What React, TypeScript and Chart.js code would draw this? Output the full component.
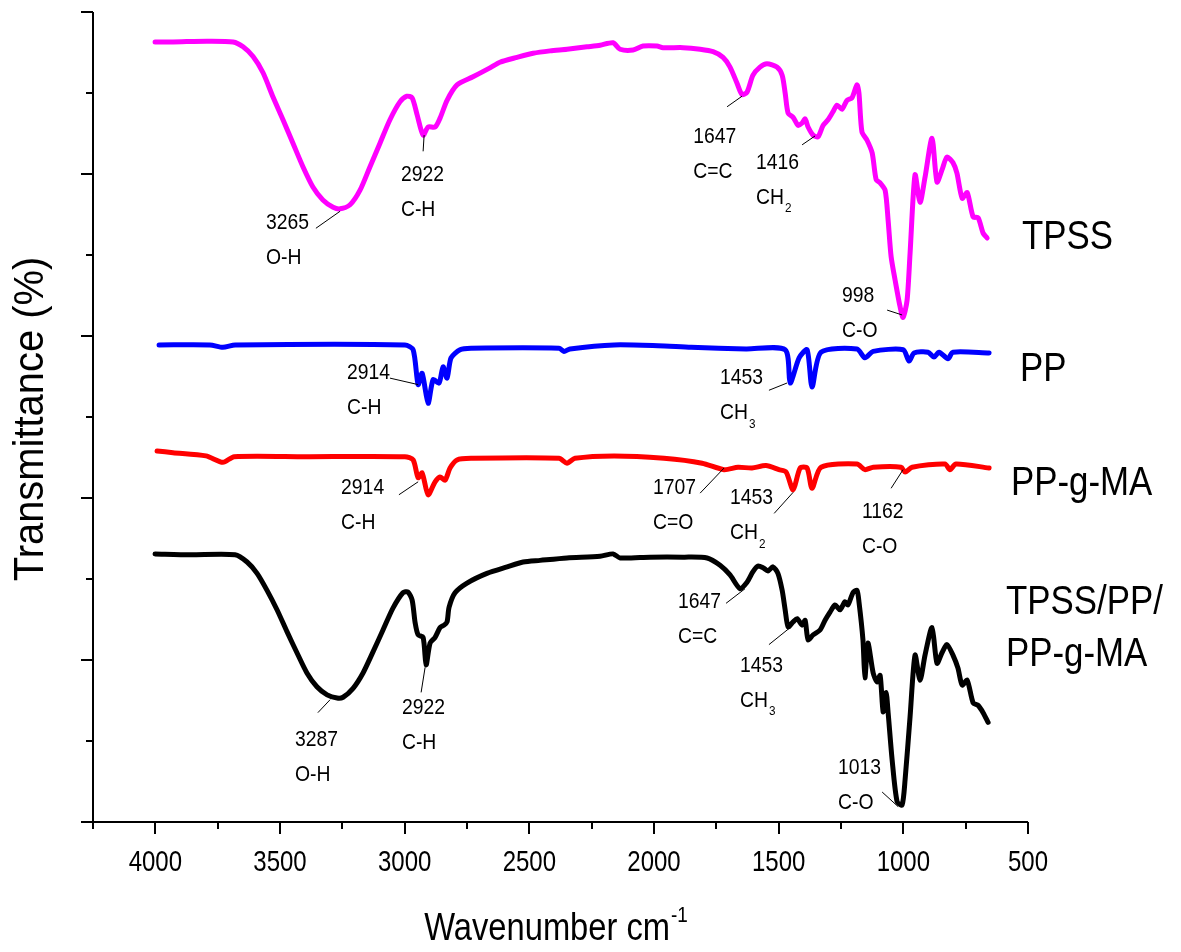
import { useEffect, useRef } from "react";
import { Chart, registerables } from "chart.js";

Chart.register(...registerables);

// ---------- axes ----------
const X_MIN = 500;
const X_MAX = 4250;
const Y_MIN = 0;
const Y_MAX = 100;
const xMajorTicks = [4000, 3500, 3000, 2500, 2000, 1500, 1000, 500];
const xMinorTicks = [4250, 3750, 3250, 2750, 2250, 1750, 1250, 750];
const yMajorTicks = [0, 20, 40, 60, 80, 100];
const yMinorTicks = [10, 30, 50, 70, 90];
const xTitle = "Wavenumber cm";
const xTitleSup = "-1";
const yTitle = "Transmittance (%)";

// ---------- series: [wavenumber (cm-1), transmittance (offset, a.u.)] ----------
const tpss: [number, number][] = [
  [4001, 96.3], [3929, 96.3], [3793, 96.4], [3688, 96.3], [3648, 95.7], [3608, 94.5],
  [3568, 92.5], [3528, 89.5], [3488, 86.7], [3448, 83.8], [3408, 80.9], [3368, 78.4],
  [3328, 76.8], [3287, 75.9], [3259, 75.7], [3219, 76.2], [3179, 78.0], [3139, 80.9],
  [3099, 83.8], [3059, 86.7], [3019, 88.9], [2991, 89.6], [2970, 89.4], [2950, 87.3],
  [2926, 84.8], [2906, 85.8], [2878, 85.8], [2858, 86.9], [2830, 89.1], [2790, 91.0],
  [2726, 92.0], [2658, 93.1], [2618, 93.8], [2549, 94.4], [2485, 94.9], [2417, 95.2],
  [2349, 95.4], [2269, 95.7], [2216, 95.9], [2164, 96.2], [2136, 95.4], [2084, 95.3],
  [2044, 95.8], [1988, 95.8], [1964, 95.6], [1883, 95.6], [1815, 95.4], [1763, 95.1],
  [1723, 94.4], [1695, 93.2], [1667, 91.2], [1647, 89.8], [1627, 90.1], [1603, 92.2],
  [1575, 93.2], [1547, 93.6], [1507, 93.2], [1486, 92.2], [1474, 90.0], [1462, 87.5],
  [1442, 87.0], [1422, 86.0], [1406, 86.3], [1394, 86.8], [1382, 85.8], [1362, 84.8],
  [1342, 84.6], [1322, 86.0], [1302, 86.7], [1282, 87.7], [1266, 88.5], [1246, 88.0],
  [1226, 89.1], [1206, 89.4], [1186, 91.0], [1178, 90.0], [1166, 85.2], [1146, 84.2],
  [1125, 82.6], [1109, 79.3], [1093, 78.9], [1073, 78.0], [1061, 74.3], [1049, 69.8],
  [1033, 66.9], [1013, 63.6], [1001, 62.3], [985, 64.4], [973, 70.2], [953, 79.9],
  [933, 76.5], [913, 79.6], [885, 84.4], [865, 79.0], [845, 80.5], [825, 82.1],
  [801, 81.4], [785, 80.1], [764, 77.0], [744, 77.7], [720, 74.7], [700, 74.6],
  [680, 72.7], [664, 72.1],
];

const pp: [number, number][] = [
  [3985, 58.9], [3781, 58.9], [3729, 58.6], [3680, 58.9], [2999, 58.9], [2966, 58.3],
  [2946, 54.0], [2930, 55.4], [2906, 51.7], [2886, 54.6], [2862, 54.2], [2846, 56.2],
  [2830, 54.8], [2814, 57.3], [2778, 58.3], [2734, 58.5], [2381, 58.5], [2361, 58.1],
  [2337, 58.4], [2160, 58.9], [1984, 58.8], [1851, 58.6], [1631, 58.4], [1474, 58.3],
  [1454, 54.2], [1418, 57.3], [1386, 58.3], [1366, 53.7], [1330, 58.0], [1186, 58.4],
  [1154, 57.3], [1121, 58.1], [1001, 58.3], [977, 56.9], [957, 57.9], [901, 58.0],
  [877, 57.4], [857, 58.0], [821, 57.2], [801, 58.0], [656, 57.9],
];

const ppgma: [number, number][] = [
  [3993, 45.8], [3929, 45.6], [3797, 45.2], [3729, 44.4], [3684, 45.1], [3400, 45.1],
  [2999, 45.1], [2966, 44.7], [2946, 42.5], [2930, 43.1], [2906, 40.4], [2878, 42.0],
  [2858, 42.6], [2838, 42.2], [2818, 43.7], [2790, 44.7], [2734, 44.9], [2381, 44.9],
  [2349, 44.3], [2317, 44.9], [2160, 45.2], [1960, 44.9], [1807, 44.3], [1719, 43.5],
  [1663, 43.8], [1607, 43.7], [1551, 44.0], [1499, 43.5], [1470, 43.2], [1442, 41.0],
  [1414, 43.7], [1386, 43.7], [1366, 41.2], [1330, 43.8], [1186, 44.2], [1154, 43.5],
  [1121, 43.8], [1009, 43.8], [993, 43.2], [965, 43.8], [833, 44.2], [813, 43.5],
  [789, 44.2], [656, 43.7],
];

const blend: [number, number][] = [
  [4001, 33.1], [3861, 33.0], [3680, 33.0], [3632, 32.1], [3592, 30.7], [3552, 28.6],
  [3512, 26.2], [3472, 23.5], [3432, 20.9], [3392, 18.4], [3352, 16.7], [3311, 15.7],
  [3271, 15.3], [3247, 15.4], [3207, 16.5], [3167, 18.4], [3127, 21.0], [3087, 23.7],
  [3047, 26.4], [3007, 28.3], [2987, 28.4], [2970, 27.4], [2958, 24.6], [2946, 23.1],
  [2926, 22.8], [2914, 19.4], [2898, 22.1], [2878, 22.8], [2858, 24.0], [2842, 24.3],
  [2830, 24.7], [2822, 26.5], [2798, 28.3], [2750, 29.5], [2670, 30.7], [2589, 31.5],
  [2525, 32.1], [2457, 32.3], [2349, 32.6], [2216, 32.8], [2164, 33.1], [2136, 32.6],
  [2016, 32.7], [1883, 32.7], [1787, 32.6], [1735, 31.7], [1695, 30.5], [1655, 28.8],
  [1627, 29.6], [1603, 30.9], [1583, 31.6], [1563, 31.4], [1543, 31.0], [1523, 31.5],
  [1503, 30.7], [1486, 28.6], [1474, 26.2], [1462, 24.1], [1442, 24.7], [1426, 25.1],
  [1406, 24.3], [1394, 24.9], [1382, 22.5], [1362, 23.1], [1334, 23.7], [1314, 24.9],
  [1294, 25.9], [1274, 26.8], [1254, 26.2], [1234, 27.2], [1222, 26.8], [1202, 28.3],
  [1186, 28.6], [1178, 27.2], [1162, 22.5], [1154, 17.8], [1142, 22.1], [1121, 18.4],
  [1105, 17.3], [1093, 18.1], [1081, 13.6], [1069, 16.0], [1061, 13.5], [1045, 7.7],
  [1025, 2.5], [1005, 2.1], [993, 5.2], [973, 13.0], [953, 20.6], [933, 17.5],
  [913, 20.6], [885, 24.0], [865, 19.6], [845, 20.9], [825, 21.9], [801, 20.6],
  [781, 19.0], [764, 16.9], [744, 17.5], [720, 14.7], [700, 14.4], [680, 13.5],
  [660, 12.3],
];

const seriesNames = ["TPSS", "PP", "PP-g-MA", "TPSS/PP/PP-g-MA"];
const seriesColors = ["#ff00ff", "#0000ff", "#ff0000", "#000000"];

// ---------- side labels (series name lines, anchored at transmittance level of first line) ----------
const sideLabels: { lines: string[]; level: number; dx: number }[] = [
  { lines: ["TPSS"], level: 72.1, dx: -6 },
  { lines: ["PP"], level: 55.8, dx: -8 },
  { lines: ["PP-g-MA"], level: 41.8, dx: -17 },
  { lines: ["TPSS/PP/", "PP-g-MA"], level: 27.1, dx: -22 },
];

// ---------- peak annotations: text anchor + leader line, in data units ----------
type Ann = {
  peak: string;
  group: string;
  sub?: string;
  tx: number;
  ty: number;
  from: [number, number];
  to: [number, number];
};
const annotations: Ann[] = [
  { peak: "3265", group: "O-H", tx: 3556, ty: 74.0, from: [3356, 73.3], to: [3259, 75.4] },
  { peak: "2922", group: "C-H", tx: 3015, ty: 79.9, from: [2926, 82.8], to: [2922, 84.8] },
  { peak: "1647", group: "C=C", tx: 1843, ty: 84.6, from: [1707, 88.3], to: [1647, 89.6] },
  { peak: "1416", group: "CH", sub: "2", tx: 1591, ty: 81.4, from: [1406, 83.6], to: [1354, 84.7] },
  { peak: "998", group: "C-O", tx: 1246, ty: 64.9, from: [1065, 63.2], to: [1005, 62.6] },
  { peak: "2914", group: "C-H", tx: 3231, ty: 55.4, from: [3059, 54.8], to: [2946, 54.0] },
  { peak: "1453", group: "CH", sub: "3", tx: 1735, ty: 54.8, from: [1539, 53.3], to: [1466, 54.2] },
  { peak: "2914", group: "C-H", tx: 3255, ty: 41.2, from: [3023, 40.4], to: [2946, 42.0] },
  { peak: "1707", group: "C=O", tx: 2004, ty: 41.2, from: [1815, 40.6], to: [1719, 43.7] },
  { peak: "1453", group: "CH", sub: "2", tx: 1695, ty: 40.0, from: [1518, 38.1], to: [1442, 40.7] },
  { peak: "1162", group: "C-O", tx: 1166, ty: 38.3, from: [1049, 41.2], to: [1001, 43.5] },
  { peak: "3287", group: "O-H", tx: 3440, ty: 10.1, from: [3348, 13.5], to: [3299, 15.1] },
  { peak: "2922", group: "C-H", tx: 3011, ty: 14.1, from: [2934, 16.0], to: [2918, 19.1] },
  { peak: "1647", group: "C=C", tx: 1904, ty: 27.2, from: [1711, 27.0], to: [1635, 28.8] },
  { peak: "1453", group: "CH", sub: "3", tx: 1655, ty: 19.3, from: [1539, 21.9], to: [1454, 24.0] },
  { peak: "1013", group: "C-O", tx: 1262, ty: 6.7, from: [1085, 3.7], to: [1021, 1.9] },
];

const FONT = '"Liberation Sans", Arial, Helvetica, sans-serif';

function squeezed(
  ctx: CanvasRenderingContext2D,
  text: string,
  x: number,
  y: number,
  size: number,
  sx: number,
  align: CanvasTextAlign = "left"
): number {
  ctx.save();
  ctx.font = `${size}px ${FONT}`;
  ctx.textBaseline = "middle";
  ctx.textAlign = align;
  ctx.fillStyle = "#000";
  ctx.translate(x, y);
  ctx.scale(sx, 1);
  ctx.fillText(text, 0, 0);
  const w = ctx.measureText(text).width * sx;
  ctx.restore();
  return w;
}

const decorPlugin = {
  id: "ftirDecor",
  afterDraw(chart: any) {
    const ctx: CanvasRenderingContext2D = chart.ctx;
    const xs = chart.scales.x;
    const ys = chart.scales.y;
    const { left, right, top, bottom } = chart.chartArea;
    ctx.save();
    ctx.strokeStyle = "#000";
    ctx.lineWidth = 2;
    ctx.lineCap = "butt";
    // axis lines
    ctx.beginPath();
    ctx.moveTo(left, top);
    ctx.lineTo(left, bottom);
    ctx.lineTo(right, bottom);
    ctx.stroke();
    const tick = (len: number, vals: number[], horiz: boolean) => {
      ctx.beginPath();
      for (const v of vals) {
        if (horiz) {
          const px = Math.round(xs.getPixelForValue(v));
          ctx.moveTo(px, bottom);
          ctx.lineTo(px, bottom + len);
        } else {
          const py = Math.round(ys.getPixelForValue(v));
          ctx.moveTo(left, py);
          ctx.lineTo(left - len, py);
        }
      }
      ctx.stroke();
    };
    tick(12, yMajorTicks, false);
    tick(7, yMinorTicks, false);
    tick(12, xMajorTicks, true);
    tick(7, xMinorTicks, true);

    // x tick labels
    for (const v of xMajorTicks) {
      squeezed(ctx, String(v), xs.getPixelForValue(v), bottom + 41, 30, 0.8, "center");
    }
    // x title with superscript
    ctx.save();
    ctx.font = `38px ${FONT}`;
    const tw = ctx.measureText(xTitle).width * 0.86;
    ctx.font = `22px ${FONT}`;
    const sw = ctx.measureText(xTitleSup).width * 0.86;
    ctx.restore();
    const cx = (left + right) / 2 - 5;
    const x0 = cx - (tw + sw) / 2;
    squeezed(ctx, xTitle, x0, bottom + 108, 38, 0.86);
    squeezed(ctx, xTitleSup, x0 + tw + 1, bottom + 94, 22, 0.86);

    // y title (rotated)
    ctx.save();
    ctx.translate(31, (top + bottom) / 2 + 2);
    ctx.rotate(-Math.PI / 2);
    squeezed(ctx, yTitle, 0, 0, 42, 0.95, "center");
    ctx.restore();

    // peak annotations
    ctx.lineWidth = 1;
    for (const a of annotations) {
      const tx = xs.getPixelForValue(a.tx);
      const ty = ys.getPixelForValue(a.ty);
      squeezed(ctx, a.peak, tx, ty, 22, 0.88);
      const gw = squeezed(ctx, a.group, tx, ty + 35, 22, 0.88);
      if (a.sub) squeezed(ctx, a.sub, tx + gw + 1, ty + 46, 13, 0.9);
      ctx.beginPath();
      ctx.moveTo(xs.getPixelForValue(a.from[0]), ys.getPixelForValue(a.from[1]));
      ctx.lineTo(xs.getPixelForValue(a.to[0]), ys.getPixelForValue(a.to[1]));
      ctx.stroke();
    }

    // series name labels at right
    for (const s of sideLabels) {
      const y0 = ys.getPixelForValue(s.level);
      s.lines.forEach((ln, i) => {
        squeezed(ctx, ln, right + s.dx, y0 + i * 52, 41, 0.85);
      });
    }
    ctx.restore();
  },
};

export default function App() {
  const ref = useRef<HTMLCanvasElement | null>(null);
  useEffect(() => {
    if (!ref.current) return;
    const all = [tpss, pp, ppgma, blend];
    const chart = new Chart(ref.current, {
      type: "line",
      data: {
        datasets: all.map((d, i) => ({
          label: seriesNames[i],
          data: d.map(([x, y]) => ({ x, y })),
          borderColor: seriesColors[i],
          backgroundColor: seriesColors[i],
          borderWidth: 5,
          pointRadius: 0,
          tension: 0.25,
          fill: false,
          borderJoinStyle: "round" as const,
          borderCapStyle: "round" as const,
        })),
      },
      options: {
        responsive: false,
        animation: false,
        events: [],
        layout: { padding: { left: 93, right: 153, top: 12, bottom: 130 } },
        plugins: { legend: { display: false }, tooltip: { enabled: false } },
        scales: {
          x: { type: "linear", min: X_MIN, max: X_MAX, reverse: true, display: false },
          y: { type: "linear", min: Y_MIN, max: Y_MAX, display: false },
        },
      },
      plugins: [decorPlugin],
    });
    return () => chart.destroy();
  }, []);
  return (
    <div style={{ position: "absolute", left: 0, top: 0, width: 1181, height: 952, background: "#fff" }}>
      <canvas ref={ref} width={1181} height={952} style={{ display: "block" }} />
    </div>
  );
}
